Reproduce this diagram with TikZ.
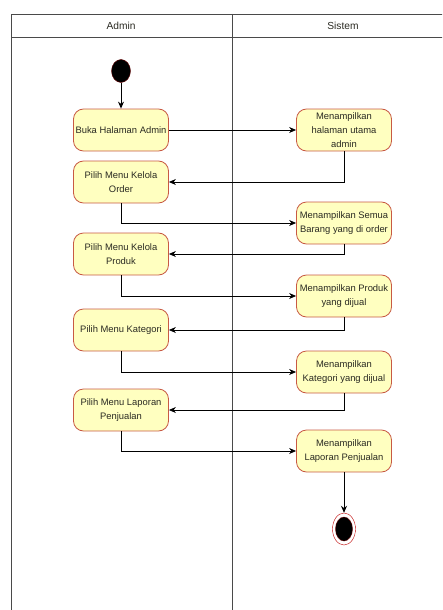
\documentclass[tikz,border=0pt]{standalone}
\usepackage{fontspec}
\setmainfont{Liberation Sans}
\usepackage{tikz}
\usetikzlibrary{arrows.meta,positioning,shapes.geometric}
\definecolor{actfill}{HTML}{FFFFC0}
\definecolor{actline}{HTML}{C85A44}
\definecolor{laneline}{HTML}{4A4A4A}
\definecolor{txtdark}{HTML}{2A2A22}
\tikzset{
  actbox/.style={
    rectangle, rounded corners=10pt, draw=actline, fill=actfill, line width=0.8pt,
    minimum width=95pt, minimum height=42pt,
    font=\fontsize{9.4}{14}\selectfont, text=txtdark, align=center,
    inner sep=1pt
  },
  startdot/.style={
    ellipse, draw=red!40!black, fill=black,
    minimum width=19pt, minimum height=23pt, inner sep=0pt
  },
  enddot/.style={
    ellipse, draw=red!75!black, fill=white, thin,
    minimum width=23pt, minimum height=32pt, inner sep=0pt
  },
  enddotcore/.style={
    ellipse, fill=black, draw=red!40!black,
    minimum width=17pt, minimum height=24pt, inner sep=0pt
  },
  flowarrow/.style={
    -{Stealth[length=7pt,width=6pt]}, line width=0.9pt, color=black
  },
  lane/.style={draw=laneline, line width=0.9pt},
  lanetitle/.style={font=\fontsize{10.2}{12}\selectfont, text=txtdark}
}

\begin{document}
\begin{tikzpicture}[x=1pt, y=-1pt]
\useasboundingbox (0,0) rectangle (442,610);
\clip (0,0) rectangle (442,610);

% swimlanes
\draw[lane] (11,620) -- (11,14) -- (460,14);
\draw[lane] (11,37) -- (460,37);
\draw[lane] (232,14) -- (232,620);
\node[lanetitle] (admin) at (121,26) {Admin};
\node[lanetitle] (sistem) at (343,26) {Sistem};

% admin lane
\node[startdot] (start) at (121,71) {};
\node[actbox] (buka) at (121,130) {Buka Halaman Admin};
\node[actbox] (order) at (121,182) {Pilih Menu Kelola\\Order};
\node[actbox] (produk) at (121,254) {Pilih Menu Kelola\\Produk};
\node[actbox] (kategori) at (121,330) {Pilih Menu Kategori};
\node[actbox] (laporan) at (121,410) {Pilih Menu Laporan\\Penjualan};

% sistem lane
\node[actbox] (utama) at (344,130) {Menampilkan\\halaman utama\\admin};
\node[actbox] (barang) at (344,223) {Menampilkan Semua\\Barang yang di order};
\node[actbox] (dijual) at (344,296) {Menampilkan Produk\\yang dijual};
\node[actbox] (katdijual) at (344,372) {Menampilkan\\Kategori yang dijual};
\node[actbox] (lappenj) at (344,451) {Menampilkan\\Laporan Penjualan};
\node[enddot] (end) at (344,529) {};
\node[enddotcore] (endcore) at (344,529) {};

\draw[flowarrow] (start) -- (buka);
\draw[flowarrow] (buka) -- (utama);
\draw[flowarrow] (utama.south) |- (order.east);
\draw[flowarrow] (order.south) |- (barang.west);
\draw[flowarrow] (barang.south) |- (produk.east);
\draw[flowarrow] (produk.south) |- (dijual.west);
\draw[flowarrow] (dijual.south) |- (kategori.east);
\draw[flowarrow] (kategori.south) |- (katdijual.west);
\draw[flowarrow] (katdijual.south) |- (laporan.east);
\draw[flowarrow] (laporan.south) |- (lappenj.west);
\draw[flowarrow] (lappenj) -- (end);

\end{tikzpicture}
\end{document}
